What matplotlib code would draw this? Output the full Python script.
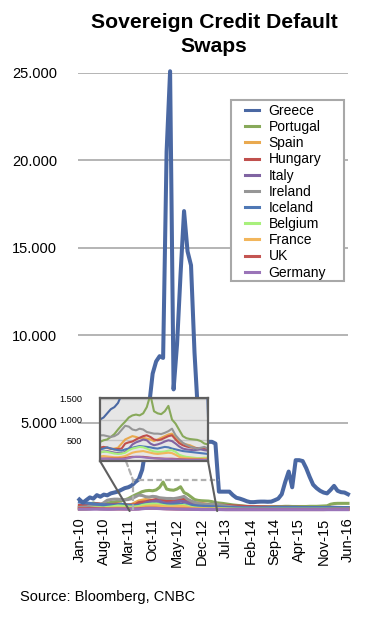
import numpy as np
import pandas as pd
import matplotlib
matplotlib.use("Agg")
import matplotlib.pyplot as plt
from matplotlib.patches import ConnectionPatch, Rectangle

plt.rcParams['font.family'] = ['Liberation Sans', 'DejaVu Sans']

# monthly, Jan-10 .. Jun-16
months = pd.date_range('2010-01-01', periods=78, freq='MS')
tick_every = 7
tick_labels = [d.strftime('%b-%y') for d in months[::tick_every]]

greece = [600, 420, 570, 720, 650, 850, 760, 880, 840, 950, 1000, 1050,
          1150, 1250, 1300, 1400, 1600, 1750, 2300, 3500, 6000, 7800, 8500, 8800,
          8700, 20500, 25100, 6900, 9500, 13500, 17100, 14800, 14000, 9000, 5500, 4500,
          4000, 3900, 3900, 3800, 1050, 1050, 1050, 1050, 850, 700, 650, 580,
          500, 450, 450, 470, 480, 480, 470, 480, 560, 650, 900, 1600,
          2200, 1300, 2850, 2850, 2800, 2400, 1900, 1450, 1250, 1100, 1000, 950,
          1150, 1380, 1100, 1020, 1000, 900]
portugal = [250, 250, 300, 350, 400, 350, 320, 330, 400, 430, 460, 500,
            520, 580, 650, 760, 860, 950, 1050, 1100, 1120, 1100, 1150, 1300,
            1600, 1200, 1150, 1130, 1200, 1330, 1000, 900, 750, 600, 550, 530,
            520, 510, 480, 420, 400, 380, 350, 320, 290, 270, 250, 230,
            210, 200, 190, 190, 190, 190, 190, 190, 200, 200, 200, 210,
            210, 200, 200, 200, 200, 200, 210, 210, 210, 220, 230, 240,
            330, 370, 380, 380, 380, 380]
spain = [100, 110, 130, 180, 250, 260, 240, 220, 300, 280, 300, 340,
         320, 290, 300, 320, 420, 520, 560, 600, 580, 550, 560, 540,
         520, 480, 520, 560, 600, 640, 660, 560, 480, 420, 400, 380,
         340, 300, 300, 310, 280, 260, 240, 220, 200, 190, 170, 150,
         130, 120, 110, 100, 90, 85, 80, 80, 75, 80, 90, 85,
         90, 100, 100, 110, 100, 100, 95, 100, 105, 110, 110, 100,
         95, 100, 105, 110, 105, 100]
hungary = [260, 250, 260, 290, 330, 360, 340, 320, 300, 310, 320, 340,
           320, 300, 280, 290, 300, 420, 450, 470, 520, 560, 600, 620,
           580, 520, 500, 520, 560, 600, 620, 520, 430, 380, 350, 330,
           320, 310, 300, 290, 280, 270, 260, 250, 240, 230, 220, 210,
           200, 200, 190, 190, 180, 180, 170, 170, 165, 160, 160, 160,
           155, 150, 150, 150, 145, 145, 140, 140, 140, 140, 140, 140,
           140, 140, 140, 140, 140, 140]
italy = [90, 90, 100, 150, 200, 180, 190, 180, 200, 210, 220, 230,
         240, 220, 200, 190, 190, 220, 300, 400, 450, 480, 520, 500,
         420, 380, 400, 430, 470, 500, 480, 420, 350, 300, 280, 270,
         260, 270, 280, 260, 250, 230, 210, 190, 170, 160, 150, 140,
         130, 120, 110, 110, 110, 100, 110, 120, 120, 110, 100, 100,
         110, 115, 120, 110, 100, 95, 100, 110, 120, 130, 140, 150,
         155, 160, 150, 145, 140, 140]
ireland = [150, 160, 170, 220, 250, 280, 300, 420, 560, 600, 620, 620,
           600, 580, 600, 650, 750, 850, 830, 760, 740, 780, 760, 700,
           680, 660, 660, 650, 680, 720, 780, 620, 520, 440, 390, 350,
           320, 300, 320, 340, 300, 260, 230, 200, 170, 150, 130, 120,
           110, 110, 100, 90, 85, 80, 75, 80, 85, 80, 75, 70,
           65, 60, 60, 60, 60, 60, 55, 55, 55, 55, 55, 60,
           65, 70, 75, 80, 80, 80]
iceland = [450, 420, 400, 380, 350, 330, 320, 300, 300, 290, 280, 300,
           330, 300, 280, 260, 250, 280, 300, 320, 340, 360, 350, 340,
           330, 310, 300, 320, 340, 330, 300, 280, 260, 240, 230, 220,
           210, 200, 190, 180, 170, 160, 150, 140, 140, 130, 130, 130,
           120, 120, 120, 120, 120, 130, 130, 140, 140, 150, 150, 150,
           150, 150, 150, 140, 140, 140, 140, 140, 140, 140, 140, 140,
           140, 140, 140, 140, 140, 140]
belgium = [50, 60, 70, 90, 120, 130, 130, 120, 150, 170, 200, 230,
           220, 200, 180, 170, 180, 200, 260, 300, 320, 340, 330, 300,
           260, 230, 220, 220, 230, 250, 260, 220, 150, 120, 100, 90,
           80, 70, 70, 80, 75, 70, 60, 55, 50, 45, 45, 40,
           40, 40, 40, 40, 40, 40, 40, 40, 40, 40, 40, 40,
           40, 40, 40, 40, 40, 40, 40, 40, 40, 40, 40, 40,
           40, 40, 40, 40, 40, 40]
france = [50, 55, 60, 70, 90, 100, 90, 80, 90, 100, 110, 120,
          110, 100, 90, 90, 100, 120, 160, 200, 220, 230, 240, 220,
          200, 180, 170, 180, 190, 200, 190, 150, 100, 80, 70, 65,
          60, 55, 55, 60, 55, 50, 45, 40, 40, 35, 35, 35,
          35, 35, 35, 35, 35, 35, 35, 35, 35, 35, 35, 35,
          35, 35, 35, 35, 35, 35, 35, 35, 35, 35, 35, 35,
          35, 35, 35, 35, 35, 35]
uk = [80, 80, 80, 90, 90, 80, 70, 70, 60, 60, 60, 60,
      60, 60, 60, 60, 60, 70, 90, 100, 100, 100, 100, 90,
      80, 70, 65, 60, 55, 55, 55, 50, 45, 40, 35, 35,
      35, 35, 35, 30, 30, 30, 25, 25, 25, 25, 25, 25,
      25, 25, 25, 25, 25, 25, 25, 25, 25, 25, 25, 25,
      25, 25, 25, 25, 25, 25, 25, 25, 25, 25, 25, 30,
      35, 40, 40, 40, 40, 40]
germany = [40, 40, 40, 40, 45, 50, 45, 40, 40, 40, 45, 55,
           55, 50, 45, 45, 45, 50, 70, 90, 100, 100, 90, 80,
           70, 65, 60, 55, 50, 45, 40, 40, 35, 30, 30, 25,
           25, 25, 25, 25, 25, 20, 20, 20, 20, 20, 20, 20,
           20, 20, 20, 20, 20, 20, 20, 20, 20, 20, 20, 20,
           20, 20, 20, 20, 20, 20, 20, 20, 20, 20, 20, 20,
           20, 20, 20, 20, 20, 20]

countries = ['Greece', 'Portugal', 'Spain', 'Hungary', 'Italy', 'Ireland',
             'Iceland', 'Belgium', 'France', 'UK', 'Germany']
series = [greece, portugal, spain, hungary, italy, ireland,
          iceland, belgium, france, uk, germany]
colors = ['#4a68a3', '#88a95a', '#e9a94f', '#c0504d', '#8064a2', '#969696',
          '#4f78b5', '#a8f07c', '#f2b65c', '#c45552', '#9a74b8']

yticks = [5000, 10000, 15000, 20000, 25000]
inset_yticks = [500, 1000, 1500]

# zoomed region shown in the inset (month index / value)
zoom_x0, zoom_x1, zoom_top = 15.4, 40.0, 1700
inset_xlim = (10, 40)
inset_ylim = (0, 1520)

W, H = 369, 620
fig = plt.figure(figsize=(W / 100, H / 100), dpi=100)
ax = fig.add_axes([78 / W, 1 - 510 / H, 270 / W, 437 / H])
x = np.arange(len(months))

for name, vals, c in zip(countries, series, colors):
    lw = 2.9 if name == 'Greece' else 2.2
    ax.plot(x, vals, color=c, lw=lw, label=name, clip_on=False,
            zorder=2.5 if name == 'Greece' else 2)

ax.set_xlim(-0.4, 77)
ax.set_ylim(0, 25000)
ax.set_yticks(yticks)
ax.set_yticklabels([f"{v:,}".replace(',', '.') for v in yticks], fontsize=10.5)
ax.set_xticks(x[::tick_every])
ax.set_xticklabels(tick_labels, rotation=90, fontsize=10.5)
ax.tick_params(axis='y', length=0, pad=15)
ax.tick_params(axis='x', length=0, pad=5.5)
ax.grid(axis='y', color='#b4b4b4', lw=1.4)
ax.set_axisbelow(True)
for s in ax.spines.values():
    s.set_visible(False)

# dashed marker of the zoomed region
ax.plot([zoom_x0, zoom_x0, zoom_x1], [0, zoom_top, zoom_top], color='#b0b0b0',
        lw=1.6, ls=(0, (2.5, 1.5)), zorder=3)

# legend box
box = Rectangle((231 / W, 1 - 281 / H), 113 / W, 181 / H, transform=fig.transFigure,
                facecolor='white', edgecolor='#a8a8a8', lw=1.5, zorder=3)
fig.add_artist(box)
leg = fig.legend(loc='upper left', bbox_to_anchor=(245 / W, 1 - 104 / H),
                 frameon=False, fontsize=10, handlelength=1.0, handletextpad=0.7,
                 borderpad=0, borderaxespad=0, labelspacing=0.155)
for h in leg.get_lines():
    h.set_linewidth(2.2)
leg.set_zorder(4)

# inset
ins = fig.add_axes([100 / W, 1 - 461 / H, 108 / W, 63 / H], zorder=6)
ins.set_facecolor('#e6e6e6')
for name, vals, c in zip(countries, series, colors):
    ins.plot(x, vals, color=c, lw=1.5)
ins.set_xlim(*inset_xlim)
ins.set_ylim(*inset_ylim)
ins.set_xticks([])
ins.set_yticks(inset_yticks)
ins.set_yticklabels([f"{v:,}".replace(',', '.') for v in inset_yticks], fontsize=6.6)
ins.tick_params(axis='y', length=0, pad=13)
ins.grid(axis='y', color='#c4c4c4', lw=1.0)
ins.set_axisbelow(True)
for s in ins.spines.values():
    s.set_color('#5f5f5f')
    s.set_linewidth(1.6)

for xa, xb in [(0, zoom_x0 - 1), (1, zoom_x1 - 0.5)]:
    cp = ConnectionPatch(xyA=(xa, 0), coordsA=ins.transAxes, xyB=(xb, -60),
                         coordsB=ax.transData, color='#5f5f5f', lw=1.5, zorder=5)
    fig.add_artist(cp)
cp = ConnectionPatch(xyA=(0.24, 0), coordsA=ins.transAxes, xyB=(zoom_x0, zoom_top),
                     coordsB=ax.transData, color='#b0b0b0', lw=1.6,
                     ls=(0, (2.5, 1.5)), zorder=5)
fig.add_artist(cp)

fig.text(214 / W, 1 - 27.5 / H, 'Sovereign Credit Default', ha='center', va='baseline',
         fontsize=15.2, fontweight='bold')
fig.text(214 / W, 1 - 51.5 / H, 'Swaps', ha='center', va='baseline',
         fontsize=15.2, fontweight='bold')
fig.text(20 / W, 1 - 601 / H, 'Source: Bloomberg, CNBC', fontsize=10.5, va='baseline')

fig.savefig('out.png', dpi=100)
